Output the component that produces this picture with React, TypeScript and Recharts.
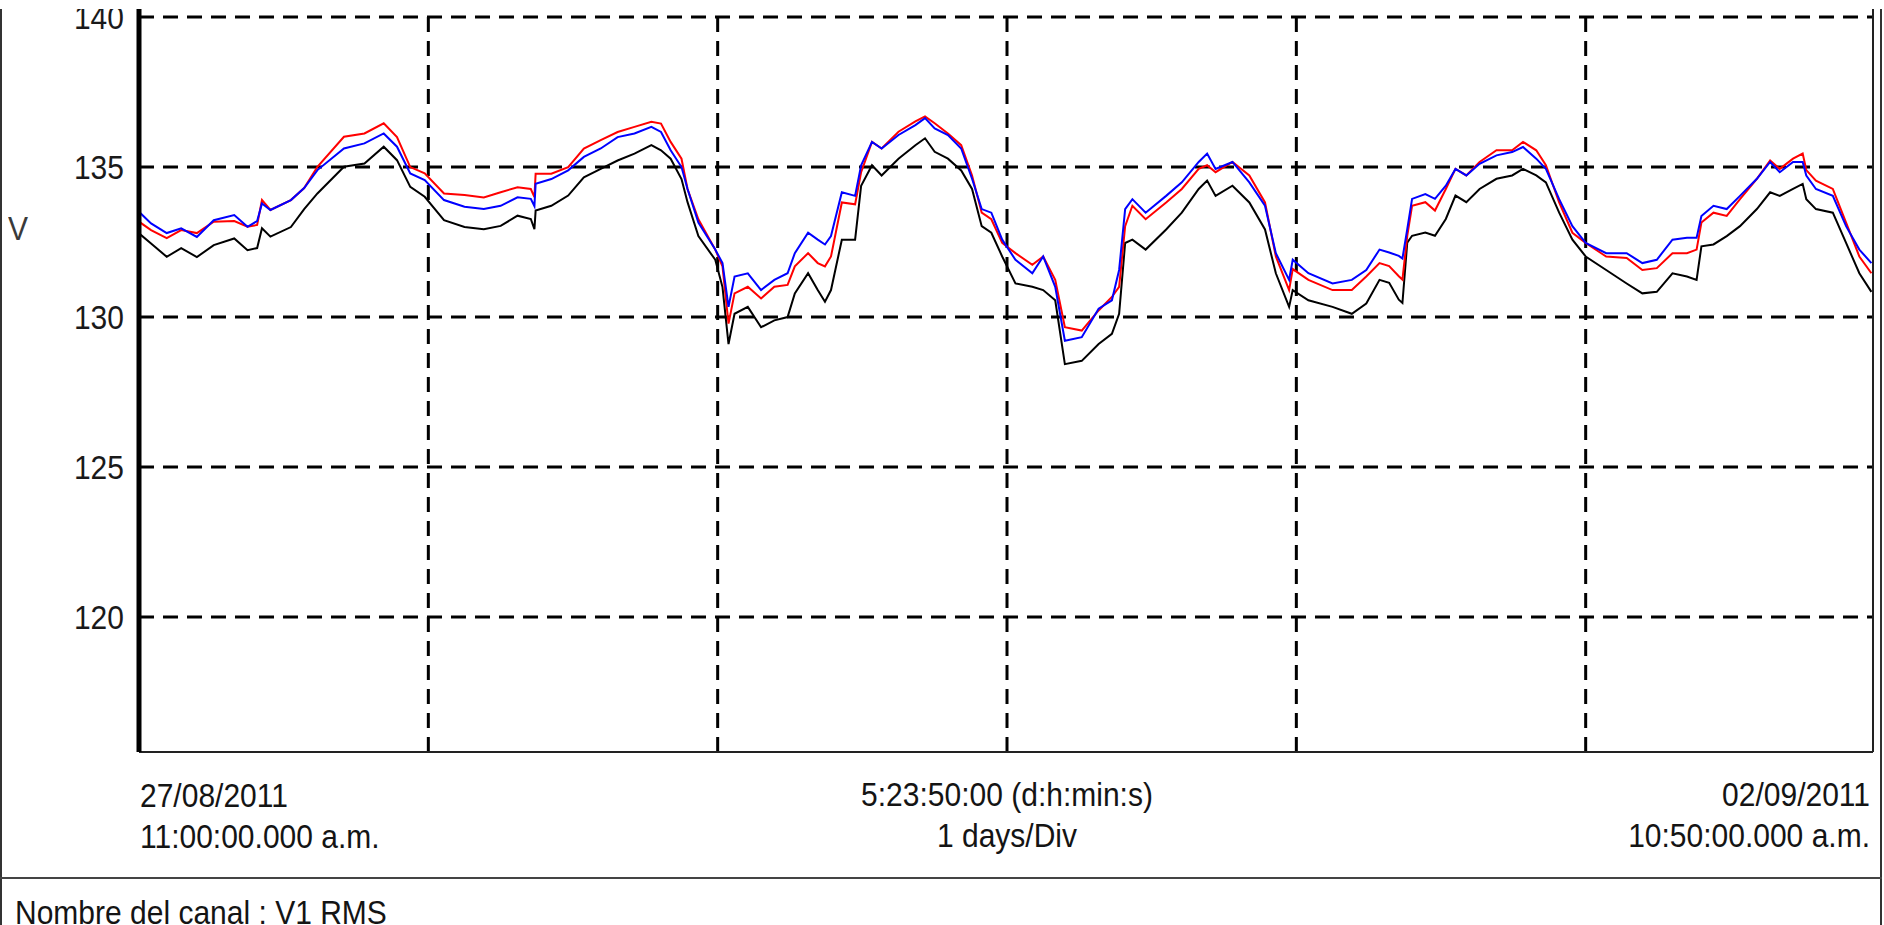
import { LineChart, Line, XAxis, YAxis, ReferenceLine } from "recharts";

// hours since 27/08/2011 11:00 a.m.
const HOURS = [
  0, 1, 2.3, 3.5, 4.8, 6.2, 7.9, 9, 9.8, 10.2, 10.9, 12.6, 13.7, 14.8, 17, 18.7, 20.3, 21.4, 22.5, 23.7,
  25.3, 27, 28.6, 30, 31.4, 32.5, 32.8, 32.9, 34.2, 35.6, 36.9, 38.3, 39.7, 41.1, 42.5, 43.3, 44.1, 45,
  45.5, 46.4, 47.8, 48.4, 48.9, 49.4, 50.5, 51.6, 52.7, 53.8, 54.4, 55.5, 56.3, 56.9, 57.4, 58.3, 59.4,
  59.9, 60.8, 61.6, 63, 64.4, 65.2, 66, 67.1, 68.2, 69.1, 69.9, 70.7, 71.6, 72.7, 74.1, 75, 76, 76.8,
  78.2, 79.6, 80.7, 81.3, 81.8, 82.4, 83.5, 85.2, 86.5, 87.9, 88.6, 89.3, 90.7, 92.1, 93.4, 94.3, 95.4,
  95.7, 97, 99, 100.6, 101.8, 102.9, 103.7, 104.5, 104.8, 105.2, 105.6, 106.7, 107.5, 108.4, 109.2,
  110.1, 111.2, 112.6, 113.9, 114.8, 115.9, 116.7, 117.8, 118.9, 120, 121.7, 123.4, 124.7, 125.9, 127.2,
  128.4, 129.2, 129.6, 130.6, 131.7, 132.8, 134.2, 135.3, 136.1, 137.2, 138, 138.3, 139.1, 140.5, 141.6,
  142.7, 143.7,
];

// fase roja
const V_RED = [
  133.18, 132.9, 132.63, 132.9, 132.8, 133.18, 133.2, 133.01, 133.07, 133.9, 133.57, 133.9, 134.3, 135.01,
  136.01, 136.12, 136.46, 136.0, 135.0, 134.79, 134.12, 134.07, 133.99, 134.16, 134.33, 134.27, 134.0,
  134.78, 134.78, 135.0, 135.62, 135.9, 136.17, 136.34, 136.51, 136.45, 135.84, 135.28, 134.27, 133.26,
  132.25, 131.69, 129.78, 130.79, 131.01, 130.62, 131.01, 131.07, 131.69, 132.13, 131.8, 131.69, 132.02,
  133.82, 133.76, 134.83, 135.84, 135.62, 136.18, 136.52, 136.69, 136.46, 136.12, 135.73, 134.72, 133.48,
  133.26, 132.47, 132.13, 131.74, 132.02, 131.24, 129.66, 129.55, 130.22, 130.67, 131.01, 133.03, 133.71,
  133.26, 133.82, 134.27, 134.94, 135.06, 134.83, 135.17, 134.72, 133.82, 132.02, 130.9, 131.6, 131.24,
  130.9, 130.9, 131.35, 131.8, 131.7, 131.36, 131.25, 132.71, 133.71, 133.83, 133.55, 134.27, 134.94,
  134.72, 135.17, 135.56, 135.56, 135.84, 135.56, 135.06, 133.82, 132.81, 132.47, 132.02, 131.97, 131.57,
  131.63, 132.13, 132.13, 132.25, 133.15, 133.48, 133.37, 133.93, 134.61, 135.22, 134.94, 135.28, 135.45,
  134.9, 134.55, 134.27, 133.15, 132.02, 131.46,
];

// fase azul
const V_BLUE = [
  133.51, 133.12, 132.8, 132.96, 132.67, 133.23, 133.4, 133.01, 133.2, 133.79, 133.57, 133.9, 134.3, 134.9,
  135.62, 135.79, 136.12, 135.68, 134.79, 134.57, 133.9, 133.68, 133.6, 133.71, 133.99, 133.94, 133.7,
  134.44, 134.6, 134.89, 135.34, 135.62, 136.0, 136.12, 136.34, 136.17, 135.56, 135.0, 134.27, 133.15,
  132.25, 131.8, 130.34, 131.35, 131.46, 130.9, 131.24, 131.46, 132.13, 132.81, 132.58, 132.42, 132.7,
  134.16, 134.04, 135.06, 135.84, 135.62, 136.07, 136.4, 136.63, 136.29, 136.07, 135.62, 134.61, 133.6,
  133.48, 132.58, 131.91, 131.46, 132.02, 131.01, 129.21, 129.33, 130.28, 130.56, 131.57, 133.6, 133.93,
  133.48, 134.04, 134.49, 135.17, 135.45, 134.94, 135.17, 134.49, 133.71, 132.13, 131.24, 131.91, 131.46,
  131.12, 131.24, 131.57, 132.25, 132.15, 132.04, 131.95, 132.93, 133.94, 134.1, 133.94, 134.38, 134.94,
  134.72, 135.11, 135.39, 135.5, 135.67, 135.28, 134.94, 133.93, 133.03, 132.47, 132.13, 132.13, 131.8,
  131.91, 132.58, 132.64, 132.64, 133.37, 133.71, 133.6, 134.04, 134.61, 135.17, 134.83, 135.17, 135.17,
  134.72, 134.27, 134.04, 133.03, 132.25, 131.8,
];

// fase negra
const V_BLACK = [
  132.79, 132.45, 132.01, 132.3, 132.0, 132.4, 132.62, 132.23, 132.3, 132.96, 132.68, 133.0, 133.6, 134.12,
  135.01, 135.12, 135.68, 135.23, 134.34, 134.01, 133.23, 133.0, 132.93, 133.04, 133.38, 133.27, 132.93,
  133.55, 133.71, 134.05, 134.66, 134.94, 135.22, 135.45, 135.73, 135.56, 135.28, 134.6, 133.83, 132.7,
  131.91, 131.0, 129.1, 130.11, 130.34, 129.66, 129.89, 130.0, 130.79, 131.46, 130.9, 130.51, 130.9,
  132.58, 132.58, 134.38, 135.06, 134.72, 135.28, 135.73, 135.96, 135.51, 135.28, 134.89, 134.27, 133.03,
  132.81, 132.02, 131.12, 131.01, 130.9, 130.56, 128.43, 128.54, 129.1, 129.44, 130.11, 132.47, 132.58,
  132.25, 132.92, 133.48, 134.27, 134.55, 134.04, 134.38, 133.82, 132.92, 131.46, 130.34, 130.9, 130.56,
  130.34, 130.11, 130.45, 131.24, 131.14, 130.58, 130.47, 132.48, 132.71, 132.82, 132.71, 133.27, 134.05,
  133.83, 134.27, 134.61, 134.72, 134.94, 134.72, 134.49, 133.48, 132.58, 132.02, 131.57, 131.12, 130.79,
  130.84, 131.46, 131.35, 131.24, 132.36, 132.42, 132.7, 133.03, 133.6, 134.16, 134.04, 134.27, 134.44,
  133.93, 133.6, 133.48, 132.47, 131.46, 130.84,
];

const Y_TICKS = [120, 125, 130, 135, 140];
const X_DIVS = [24, 48, 72, 96, 120];
const SPAN_H = 143.833; // 5:23:50:00

const data = HOURS.map((h, i) => ({ h, r: V_RED[i], b: V_BLUE[i], n: V_BLACK[i] }));

const FONT = '"Liberation Sans", Arial, sans-serif';
const GRID = { stroke: "#000", strokeWidth: 3, strokeDasharray: "15 9" };

const YTick = (props: any) => {
  const { x, y, payload } = props;
  return (
    <text
      x={x}
      y={y}
      dy="0.36em"
      textAnchor="end"
      fontSize={30}
      fontFamily={FONT}
      fill="#1a1a1a"
      transform={`translate(0 ${y}) scale(1 1.12) translate(0 ${-y})`}
    >
      {payload.value}
    </text>
  );
};

// baseline-anchored text
const Txt = ({ base, left, right, center, children }: any) => {
  const style: any = {
    position: "absolute",
    top: base - 25.4,
    fontSize: 30,
    lineHeight: "30px",
    fontFamily: FONT,
    color: "#141414",
    whiteSpace: "nowrap",
    transform: "scaleY(1.12)",
    transformOrigin: "0 25.4px",
  };
  if (left !== undefined) style.left = left;
  if (right !== undefined) {
    style.right = right;
    style.textAlign = "right";
  }
  if (center !== undefined) {
    style.left = center - 300;
    style.width = 600;
    style.textAlign = "center";
  }
  return <div style={style}>{children}</div>;
};

export default function App() {
  return (
    <div
      style={{
        position: "absolute",
        left: 0,
        top: 0,
        width: 1884,
        height: 925,
        overflow: "hidden",
        background: "#fff",
      }}
    >
      <LineChart width={1884} height={925} data={data} margin={{ top: 9, right: 11, bottom: 171, left: 0 }}>
        <XAxis
          type="number"
          dataKey="h"
          domain={[0, SPAN_H]}
          ticks={X_DIVS}
          allowDataOverflow
          height={2}
          tick={false}
          tickLine={false}
          axisLine={{ stroke: "#222", strokeWidth: 2 }}
        />
        <YAxis
          type="number"
          domain={[115.5, 140.27]}
          ticks={Y_TICKS}
          interval={0}
          allowDataOverflow
          width={139}
          tickLine={false}
          tickMargin={9}
          axisLine={{ stroke: "#000", strokeWidth: 5 }}
          tick={<YTick />}
        />
        {Y_TICKS.map((t) => (
          <ReferenceLine key={`y${t}`} y={t} {...GRID} />
        ))}
        {X_DIVS.map((t) => (
          <ReferenceLine key={`x${t}`} x={t} {...GRID} />
        ))}
        <ReferenceLine x={SPAN_H} stroke="#222" strokeWidth={2} />
        <Line type="linear" dataKey="n" stroke="#000" strokeWidth={2} dot={false} isAnimationActive={false} />
        <Line type="linear" dataKey="r" stroke="#ff0000" strokeWidth={2} dot={false} isAnimationActive={false} />
        <Line type="linear" dataKey="b" stroke="#0000ff" strokeWidth={2} dot={false} isAnimationActive={false} />
      </LineChart>

      <div style={{ position: "absolute", left: 0, top: 0, width: 1884, height: 9, background: "#fff", zIndex: 2 }} />
      <div style={{ position: "absolute", left: 0, top: 0, width: 2, height: 925, background: "#333" }} />
      <div style={{ position: "absolute", left: 1880, top: 0, width: 2, height: 925, background: "#333" }} />
      <div style={{ position: "absolute", left: 0, top: 877, width: 1882, height: 2, background: "#444" }} />

      <Txt left={8} base={240}>
        <span style={{ color: "#3a3a3a" }}>V</span>
      </Txt>
      <Txt left={140} base={807}>27/08/2011</Txt>
      <Txt left={140} base={848}>11:00:00.000 a.m.</Txt>
      <Txt center={1007} base={806}>5:23:50:00 (d:h:min:s)</Txt>
      <Txt center={1007} base={847}>1 days/Div</Txt>
      <Txt right={14} base={806}>02/09/2011</Txt>
      <Txt right={14} base={847}>10:50:00.000 a.m.</Txt>
      <Txt left={15} base={924}>Nombre del canal : V1 RMS</Txt>
    </div>
  );
}
